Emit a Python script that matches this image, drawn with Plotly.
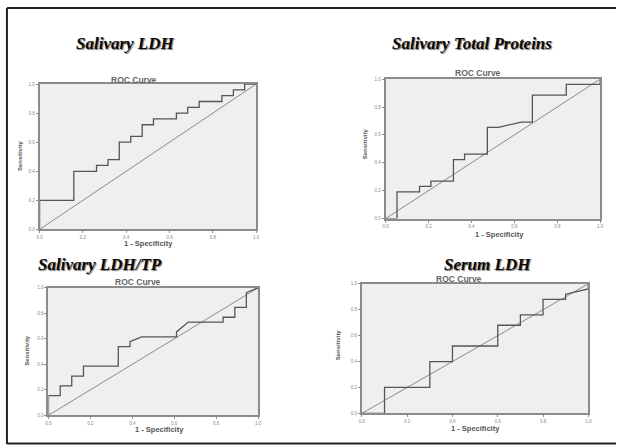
import plotly.graph_objects as go

W, H = 620, 448

# ---- data ----
titles = ["Salivary LDH", "Salivary Total Proteins", "Salivary LDH/TP", "Serum LDH"]

fpr_ldh = [0, 0, 0.158, 0.158, 0.263, 0.263, 0.316, 0.316, 0.368, 0.368, 0.421, 0.421,
           0.474, 0.474, 0.526, 0.526, 0.632, 0.632, 0.684, 0.684, 0.737, 0.737,
           0.842, 0.842, 0.895, 0.895, 0.947, 0.947, 1.0]
tpr_ldh = [0, 0.2, 0.2, 0.4, 0.4, 0.44, 0.44, 0.48, 0.48, 0.6, 0.6, 0.64,
           0.64, 0.72, 0.72, 0.76, 0.76, 0.8, 0.8, 0.84, 0.84, 0.88,
           0.88, 0.92, 0.92, 0.96, 0.96, 1.0, 1.0]

fpr_tp = [0, 0.053, 0.053, 0.158, 0.158, 0.211, 0.211, 0.316, 0.316, 0.368, 0.368,
          0.474, 0.474, 0.526, 0.632, 0.684, 0.684, 0.842, 0.842, 1.0, 1.0]
tpr_tp = [0, 0, 0.192, 0.192, 0.231, 0.231, 0.269, 0.269, 0.423, 0.423, 0.462,
          0.462, 0.654, 0.654, 0.692, 0.692, 0.885, 0.885, 0.962, 0.962, 1.0]

fpr_ratio = [0, 0, 0.056, 0.056, 0.111, 0.111, 0.167, 0.167, 0.333, 0.333, 0.389, 0.389,
             0.444, 0.611, 0.611, 0.667, 0.833, 0.833, 0.889, 0.889, 0.944, 0.944, 1.0]
tpr_ratio = [0, 0.154, 0.154, 0.231, 0.231, 0.308, 0.308, 0.385, 0.385, 0.538, 0.538, 0.577,
             0.615, 0.615, 0.654, 0.731, 0.731, 0.769, 0.769, 0.846, 0.846, 0.962, 1.0]

fpr_serum = [0, 0.1, 0.1, 0.3, 0.3, 0.4, 0.4, 0.6, 0.6, 0.7, 0.7, 0.8, 0.8, 0.9, 0.9, 1.0, 1.0]
tpr_serum = [0, 0, 0.2, 0.2, 0.4, 0.4, 0.52, 0.52, 0.68, 0.68, 0.76, 0.76, 0.88, 0.88, 0.92, 0.96, 1.0]

ref_line = [0, 1]
tick_vals = [0, 0.2, 0.4, 0.6, 0.8, 1.0]
tick_text = ["0.0", "0.2", "0.4", "0.6", "0.8", "1.0"]

curves = [(fpr_ldh, tpr_ldh), (fpr_tp, tpr_tp), (fpr_ratio, tpr_ratio), (fpr_serum, tpr_serum)]

# ---- layout (pixel boxes of each plot area: left, right, top, bottom) ----
boxes = [(37, 256, 83, 230), (387, 604, 78, 219), (46, 258, 289, 418), (363, 592, 285, 416)]
title_pos = [(124, 42), (474, 42), (98, 265), (490, 265)]
roc_pos = [(132, 79), (480, 72), (137, 283), (461, 280)]
xlab_pos = [(147, 244), (502, 235), (158, 432.5), (478, 431)]
ylab_pos = [(17, 155), (367, 143), (24, 352), (339, 347)]

def px(x):
    return x / W

def py(y):
    return 1 - y / H

fig = go.Figure()
layout = dict(width=W, height=H, margin=dict(l=0, r=0, t=0, b=0),
              paper_bgcolor="white", showlegend=False)
annotations = []
shapes = []

for i, ((fx, ty), box) in enumerate(zip(curves, boxes)):
    k = "" if i == 0 else str(i + 1)
    l, r, t, b = box
    fig.add_trace(go.Scatter(x=ref_line, y=ref_line, mode="lines",
                             line=dict(color="#8a8a8a", width=1),
                             xaxis="x" + k, yaxis="y" + k, hoverinfo="skip"))
    fig.add_trace(go.Scatter(x=fx, y=ty, mode="lines",
                             line=dict(color="#555555", width=1.3),
                             xaxis="x" + k, yaxis="y" + k))
    axcommon = dict(range=[0, 1], showgrid=False, zeroline=False, showline=True,
                    mirror=True, linecolor="#8c8c8c", linewidth=2,
                    ticks="outside", ticklen=2, tickcolor="#8c8c8c", tickwidth=1,
                    tickvals=tick_vals, ticktext=tick_text,
                    tickfont=dict(size=4.5, color="#8a8a8a", family="Arial"))
    layout["xaxis" + k] = dict(axcommon, domain=[px(l), px(r)], anchor="y" + k)
    layout["yaxis" + k] = dict(axcommon, domain=[py(b), py(t)], anchor="x" + k)
    shapes.append(dict(type="rect", xref="paper", yref="paper",
                       x0=px(l), x1=px(r), y0=py(b), y1=py(t),
                       fillcolor="#efefef", line=dict(width=0), layer="below"))
    tx, tyy = title_pos[i]
    annotations.append(dict(text="<b><i>" + titles[i] + "</i></b>", x=px(tx), y=py(tyy),
                            xref="paper", yref="paper", showarrow=False,
                            xanchor="center", yanchor="middle",
                            font=dict(family="Liberation Serif", size=17, color="#0a0a0a",
                                      shadow="1px 1px 1px #777")))
    rx, ry = roc_pos[i]
    annotations.append(dict(text="<b>ROC Curve</b>", x=px(rx), y=py(ry),
                            xref="paper", yref="paper", showarrow=False,
                            xanchor="center", yanchor="middle",
                            font=dict(family="Arial", size=8.5, color="#666666")))
    xx, xy = xlab_pos[i]
    annotations.append(dict(text="<b>1 - Specificity</b>", x=px(xx), y=py(xy),
                            xref="paper", yref="paper", showarrow=False,
                            xanchor="center", yanchor="middle",
                            font=dict(family="Arial", size=7.5, color="#555555")))
    yx, yy = ylab_pos[i]
    annotations.append(dict(text="<b>Sensitivity</b>", x=px(yx), y=py(yy),
                            xref="paper", yref="paper", showarrow=False, textangle=-90,
                            xanchor="center", yanchor="middle",
                            font=dict(family="Arial", size=6, color="#555555")))

# outer frame (left, top, bottom)
frame = dict(color="#222222", width=2)
shapes.append(dict(type="line", xref="paper", yref="paper", x0=px(4), x1=1, y0=py(6), y1=py(6), line=frame))
shapes.append(dict(type="line", xref="paper", yref="paper", x0=px(4), x1=px(4), y0=py(6), y1=py(447), line=frame))
shapes.append(dict(type="line", xref="paper", yref="paper", x0=px(4), x1=1, y0=py(446.5), y1=py(446.5), line=frame))

layout["annotations"] = annotations
layout["shapes"] = shapes
fig.update_layout(**layout)
fig.write_html("out.html", config={"displayModeBar": False},
               post_script="document.body.style.margin='0';document.body.style.overflow='hidden';")
